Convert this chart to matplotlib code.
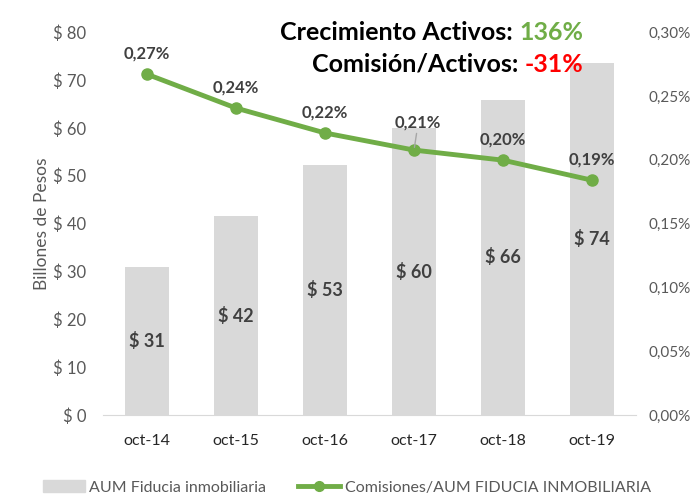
import numpy as np
import matplotlib
matplotlib.use('Agg')
import matplotlib.pyplot as plt
from matplotlib.lines import Line2D
from matplotlib.patches import Patch

plt.rcParams['font.family'] = ['Lato', 'DejaVu Sans']

# data
periods = ['oct-14', 'oct-15', 'oct-16', 'oct-17', 'oct-18', 'oct-19']
aum = [31, 42, 53, 60, 66, 74]                     # billones de pesos (labels)
aum_bar = [30.9, 41.5, 52.3, 59.9, 65.9, 73.6]      # bar heights
comision = [0.267, 0.2405, 0.221, 0.2076, 0.1997, 0.184]   # percent
comision_lbl = ['0,27%', '0,24%', '0,22%', '0,21%', '0,20%', '0,19%']
left_ticks = [0, 10, 20, 30, 40, 50, 60, 70, 80]
right_ticks = [0, 0.05, 0.10, 0.15, 0.20, 0.25, 0.30]

gray_txt = '#595959'
dark_txt = '#404040'
bar_col = '#D9D9D9'
green = '#70AD47'

fig = plt.figure(figsize=(6.94, 5.03), dpi=100)
ax = fig.add_axes([0.148, 0.175, 0.769, 0.761])
x = np.arange(len(periods))

ax.bar(x, aum_bar, width=0.5, color=bar_col, zorder=1)
ax.set_xlim(-0.5, len(periods) - 0.5)
ax.set_ylim(0, 80)
ax.set_yticks(left_ticks)
ax.set_yticklabels(['$ {}'.format(v) for v in left_ticks], color=gray_txt, fontsize=12)
ax.set_xticks(x)
ax.set_xticklabels(periods, color='#262626', fontsize=11.5)
ax.tick_params(length=0)
ax.tick_params(axis='x', pad=14)
ax.tick_params(axis='y', pad=12)
ax.set_ylabel('Billones de Pesos', color=gray_txt, fontsize=12.5, labelpad=2)
for s in ['top', 'right', 'left']:
    ax.spines[s].set_visible(False)
ax.spines['bottom'].set_color('#D9D9D9')

for xi, h, v in zip(x, aum_bar, aum):
    ax.text(xi, h / 2, '$ {}'.format(v), ha='center', va='center',
            fontsize=13, fontweight='bold', color=dark_txt)

ax2 = ax.twinx()
ax2.set_ylim(0, 0.30)
ax2.set_yticks(right_ticks)
ax2.set_yticklabels(['{:.2f}%'.format(v).replace('.', ',') for v in right_ticks],
                    color=gray_txt, fontsize=11)
ax2.tick_params(length=0, pad=9)
for s in ['top', 'right', 'left', 'bottom']:
    ax2.spines[s].set_visible(False)
ax2.plot(x, comision, color=green, lw=3.5, marker='o', ms=8, zorder=3)
for i, (xi, c, lbl) in enumerate(zip(x, comision, comision_lbl)):
    if i == 3:
        # this label was nudged up in the original, with a small leader line
        ax2.annotate(lbl, (xi, c), xytext=(3, 14), textcoords='offset points',
                     ha='center', va='bottom', fontsize=12, fontweight='bold', color=dark_txt,
                     arrowprops=dict(arrowstyle='-', color='#A6A6A6', lw=1, shrinkA=0, shrinkB=2))
    else:
        ax2.annotate(lbl, (xi, c), xytext=(0, 9), textcoords='offset points',
                     ha='center', va='bottom', fontsize=12, fontweight='bold', color=dark_txt)

# headline text, two colours per line
t1 = ax.text(0.90, 1.0, '136%', transform=ax.transAxes, ha='right', va='center',
             fontsize=18, fontweight='bold', color=green)
ax.annotate('Crecimiento Activos: ', xy=(0, 0), xycoords=t1, ha='right', va='bottom',
            fontsize=18, fontweight='bold', color='black')
t2 = ax.text(0.90, 0.916, '-31%', transform=ax.transAxes, ha='right', va='center',
             fontsize=18, fontweight='bold', color='#FF0000')
ax.annotate('Comisión/Activos: ', xy=(0, 0), xycoords=t2, ha='right', va='bottom',
            fontsize=18, fontweight='bold', color='black')

handles = [Patch(color=bar_col, label='AUM Fiducia inmobiliaria'),
           Line2D([0], [0], color=green, lw=3.5, marker='o', ms=7,
                  label='Comisiones/AUM FIDUCIA INMOBILIARIA')]
fig.legend(handles=handles, loc='lower center', bbox_to_anchor=(0.5, -0.012), ncol=2,
           frameon=False, fontsize=11.5, labelcolor=gray_txt, handlelength=2.6,
           columnspacing=2.0, handletextpad=0.3)

fig.savefig('out.png', dpi=100)
